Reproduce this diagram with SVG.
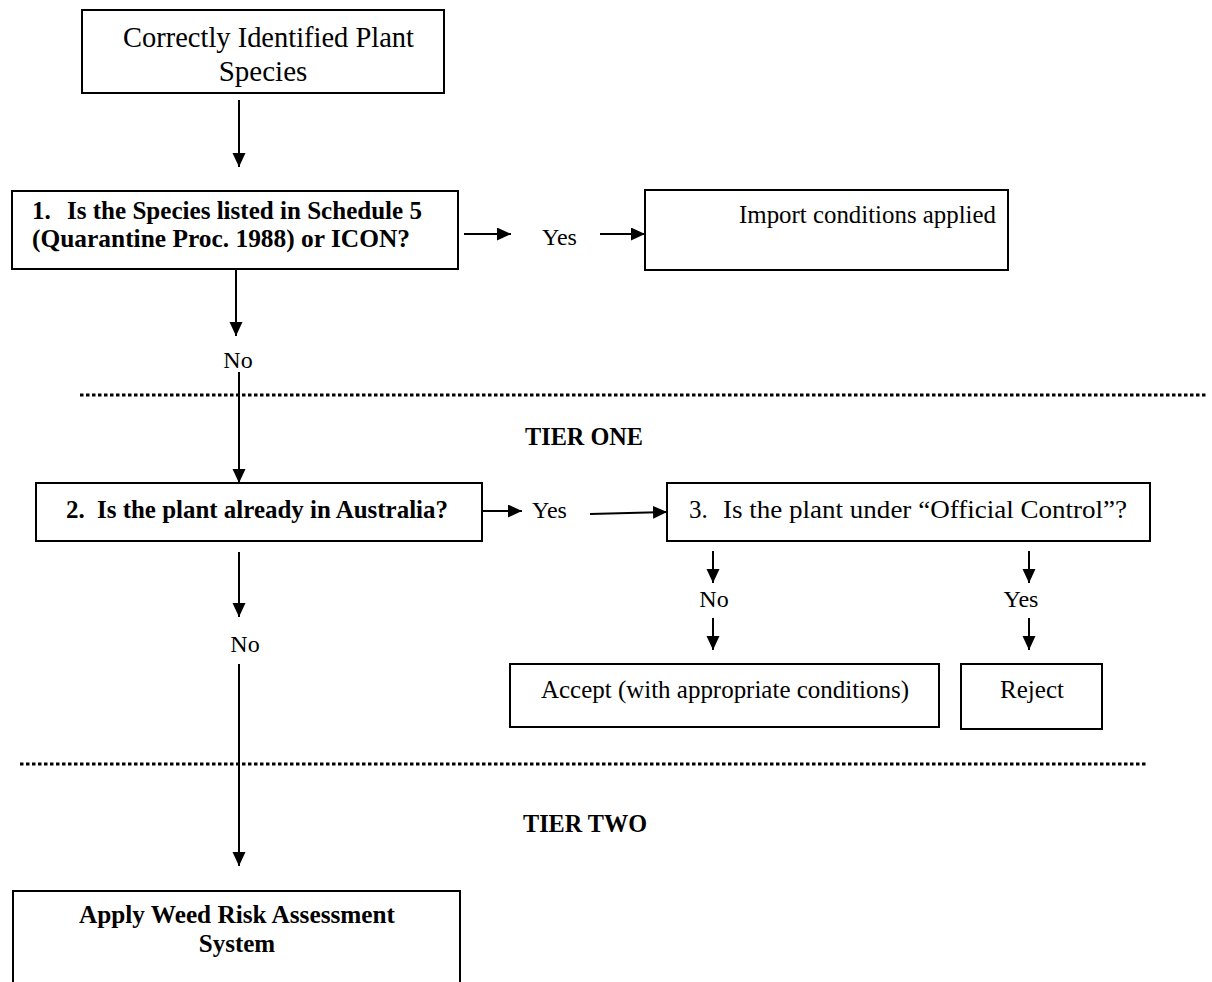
<svg xmlns="http://www.w3.org/2000/svg" width="1212" height="982" viewBox="0 0 1212 982">
<style>
.box{fill:#fff;stroke:#000;stroke-width:2}
.t{font-family:"Liberation Serif","Times New Roman",serif;font-size:25px;fill:#000}
.s{font-size:24px}
.b{font-weight:bold}
.big{font-size:29px}
.c{text-anchor:middle}
.con{stroke:#000;stroke-width:2;fill:none}
.arr{marker-end:url(#ah)}
.dot{stroke:#000;stroke-width:3;stroke-dasharray:3.5 2.5;fill:none}
</style>
<defs>
<marker id="ah" markerUnits="userSpaceOnUse" markerWidth="16" markerHeight="14" refX="14" refY="6.5" orient="auto">
<path d="M0,0 L14,6.5 L0,13 z" fill="#000"/>
</marker>
</defs>
<rect width="1212" height="982" fill="#fff"/>
<g id="separators">
<line class="dot" x1="80" y1="395" x2="1206" y2="395"/>
<line class="dot" x1="20" y1="764" x2="1146" y2="764"/>
<text class="t b" x="525" y="445" textLength="118" lengthAdjust="spacingAndGlyphs">TIER ONE</text>
<text class="t b" x="523" y="832" textLength="124" lengthAdjust="spacingAndGlyphs">TIER TWO</text>
</g>
<g id="connectors">
<line class="con arr" x1="239" y1="100" x2="239" y2="167"/>
<line class="con arr" x1="464" y1="234" x2="511" y2="234"/>
<line class="con arr" x1="600" y1="234" x2="645" y2="234"/>
<line class="con arr" x1="236" y1="270" x2="236" y2="336"/>
<line class="con arr" x1="239" y1="372" x2="239" y2="483"/>
<line class="con arr" x1="482" y1="511" x2="522" y2="511"/>
<line class="con arr" x1="590" y1="514" x2="667" y2="512"/>
<line class="con arr" x1="713" y1="551" x2="713" y2="583"/>
<line class="con arr" x1="713" y1="618" x2="713" y2="650"/>
<line class="con arr" x1="1029" y1="551" x2="1029" y2="583"/>
<line class="con arr" x1="1029" y1="618" x2="1029" y2="650"/>
<line class="con arr" x1="239" y1="552" x2="239" y2="617"/>
<line class="con arr" x1="239" y1="664" x2="239" y2="866"/>
<text class="t s" x="542" y="245">Yes</text>
<text class="t s c" x="238" y="368">No</text>
<text class="t s" x="532" y="518">Yes</text>
<text class="t s c" x="714" y="607">No</text>
<text class="t s c" x="1021" y="607">Yes</text>
<text class="t s c" x="245" y="652">No</text>
</g>
<g id="start">
<rect class="box" x="82" y="10" width="362" height="83"/>
<text class="t big" x="123" y="47" textLength="291" lengthAdjust="spacingAndGlyphs">Correctly Identified Plant</text>
<text class="t big c" x="263" y="81">Species</text>
</g>
<g id="q1">
<rect class="box" x="12" y="191" width="446" height="78"/>
<text class="t b" x="32" y="219">1.</text>
<text class="t b" x="67" y="219" textLength="355" lengthAdjust="spacingAndGlyphs">Is the Species listed in Schedule 5</text>
<text class="t b" x="32" y="247" textLength="378" lengthAdjust="spacingAndGlyphs">(Quarantine Proc. 1988) or ICON?</text>
</g>
<g id="import">
<rect class="box" x="645" y="190" width="363" height="80"/>
<text class="t" x="739" y="223" textLength="257" lengthAdjust="spacingAndGlyphs">Import conditions applied</text>
</g>
<g id="q2">
<rect class="box" x="36" y="483" width="446" height="58"/>
<text class="t b" x="66" y="518">2.</text>
<text class="t b" x="97" y="518" textLength="351" lengthAdjust="spacingAndGlyphs">Is the plant already in Australia?</text>
</g>
<g id="q3">
<rect class="box" x="667" y="483" width="483" height="58"/>
<text class="t" x="689" y="518">3.</text>
<text class="t" x="723" y="518" textLength="404" lengthAdjust="spacingAndGlyphs">Is the plant under “Official Control”?</text>
</g>
<g id="accept">
<rect class="box" x="510" y="664" width="429" height="63"/>
<text class="t" x="541" y="698" textLength="368" lengthAdjust="spacingAndGlyphs">Accept (with appropriate conditions)</text>
</g>
<g id="reject">
<rect class="box" x="961" y="664" width="141" height="65"/>
<text class="t c" x="1032" y="698">Reject</text>
</g>
<g id="wra">
<rect class="box" x="13" y="891" width="447" height="120"/>
<text class="t b" x="79" y="923" textLength="316" lengthAdjust="spacingAndGlyphs">Apply Weed Risk Assessment</text>
<text class="t b c" x="237" y="952">System</text>
</g>
</svg>
